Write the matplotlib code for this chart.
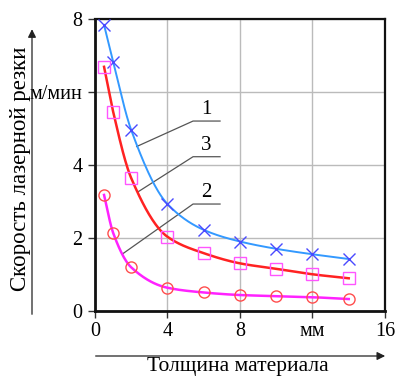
import numpy as np
import matplotlib
matplotlib.use("Agg")
import matplotlib.pyplot as plt
from matplotlib.patches import FancyArrowPatch

# ---- data ----
thickness = [0.5, 1, 2, 4, 6, 8, 10, 12, 14]
speed_1 = [7.85, 6.84, 4.96, 2.93, 2.22, 1.90, 1.70, 1.55, 1.42]
speed_3 = [6.70, 5.47, 3.64, 2.03, 1.58, 1.30, 1.15, 1.00, 0.89]
speed_2 = [3.18, 2.14, 1.19, 0.63, 0.50, 0.43, 0.40, 0.37, 0.32]

x_ticks = [0, 4, 8, 12, 16]
x_tick_labels = ["0", "4", "8", "мм", "16"]
y_ticks = [0, 2, 4, 6, 8]
y_tick_labels = ["0", "2", "4", "м/мин", "8"]

curve_labels = ["1", "3", "2"]
label_y = [5.21, 4.23, 2.93]
leader_start = [(2.30, 4.51), (2.39, 3.27), (1.52, 1.56)]

x_title = "Толщина материала"
y_title = "Скорость лазерной резки"


def pchip(x, y, xn):
    x = np.asarray(x, float); y = np.asarray(y, float)
    h = np.diff(x); d = np.diff(y) / h
    m = np.zeros_like(y)
    for k in range(1, len(x) - 1):
        if d[k - 1] * d[k] > 0:
            w1 = 2 * h[k] + h[k - 1]; w2 = h[k] + 2 * h[k - 1]
            m[k] = (w1 + w2) / (w1 / d[k - 1] + w2 / d[k])
    m[0] = d[0]; m[-1] = d[-1]
    idx = np.clip(np.searchsorted(x, xn) - 1, 0, len(x) - 2)
    t = (xn - x[idx]) / h[idx]
    h00 = 2 * t**3 - 3 * t**2 + 1; h10 = t**3 - 2 * t**2 + t
    h01 = -2 * t**3 + 3 * t**2; h11 = t**3 - t**2
    return h00 * y[idx] + h10 * h[idx] * m[idx] + h01 * y[idx + 1] + h11 * h[idx] * m[idx + 1]


plt.rcParams['font.family'] = ['Liberation Serif', 'DejaVu Serif']
fig = plt.figure(figsize=(4.02, 3.77), dpi=100)
ax = fig.add_axes([0.2363, 0.1759, 0.7214, 0.7724])

xs = np.linspace(thickness[0], thickness[-1], 300)
ax.plot(xs, pchip(thickness, speed_1, xs), color='#3399ff', lw=1.4, zorder=3)
ax.plot(xs, pchip(thickness, speed_3, xs), color='#ff2222', lw=1.8, zorder=3)
ax.plot(xs, pchip(thickness, speed_2, xs), color='#ff22ff', lw=1.8, zorder=3)

ax.plot(thickness, speed_1, ls='none', marker='x', ms=8, mew=1.0, color='#4a4aff', zorder=4)
ax.plot(thickness, speed_3, ls='none', marker='s', ms=8, mew=1.0, mfc='none', mec='#ff55ff', zorder=4)
ax.plot(thickness, speed_2, ls='none', marker='o', ms=8, mew=1.0, mfc='none', mec='#ff4d4d', zorder=4)

# curve labels with underline and leader
for lab, ly, (sx, sy) in zip(curve_labels, label_y, leader_start):
    ax.plot([sx, 5.41, 6.9], [sy, ly, ly], color='#555555', lw=0.9, zorder=2)
    ax.text(6.12, ly + 0.06, lab, ha='center', va='bottom', fontsize=15)

ax.set_xlim(0, 16)
ax.set_ylim(0, 8)
ax.set_xticks(x_ticks)
ax.set_xticklabels(x_tick_labels)
ax.set_yticks(y_ticks)
ax.set_yticklabels(y_tick_labels)
ax.tick_params(axis='both', labelsize=14.5, direction='out', length=5, width=1, color='#333333')
ax.tick_params(axis='y', pad=4)
ax.tick_params(axis='x', pad=3)
ax.grid(True, color='#bbbbbb', lw=1.0)
ax.set_axisbelow(True)
for s in ['left', 'bottom']:
    ax.spines[s].set_linewidth(2.0)
for s in ['top', 'right']:
    ax.spines[s].set_linewidth(1.6)
for s in ax.spines.values():
    s.set_color('#111111')

# axis arrows and titles
fig.add_artist(FancyArrowPatch((0.0796, 0.159), (0.0796, 0.93), transform=fig.transFigure,
                               arrowstyle='-|>', mutation_scale=12, color='#222222', lw=0.9))
fig.add_artist(FancyArrowPatch((0.231, 0.0557), (0.965, 0.0557), transform=fig.transFigure,
                               arrowstyle='-|>', mutation_scale=12, color='#222222', lw=0.9))
fig.text(0.0498, 0.552, y_title, rotation=90, ha='center', va='center', fontsize=16.5)
fig.text(0.592, 0.003, x_title, ha='center', va='bottom', fontsize=15.5)

fig.savefig("out.png", dpi=100)
